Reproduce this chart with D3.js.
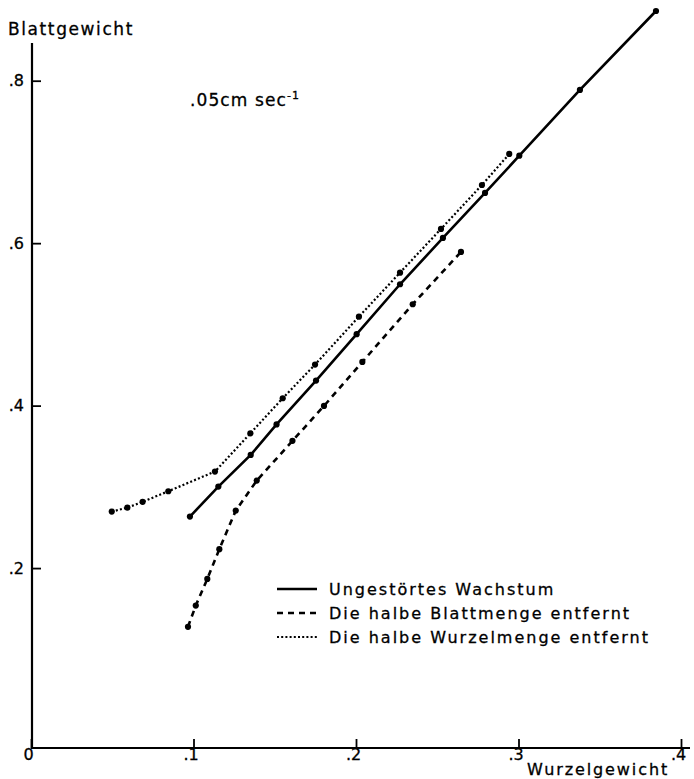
<!DOCTYPE html>
<html><head><meta charset="utf-8">
<script src="https://cdn.jsdelivr.net/npm/d3@7/dist/d3.min.js"></script>
<style>
body{margin:0;background:#fff}
svg{display:block}
text{font-family:"DejaVu Sans",sans-serif;fill:#000;stroke:#000;stroke-width:0.3px}
</style>
</head><body>
<svg id="c" width="694" height="779"></svg>
<script>
// Data (x = Wurzelgewicht, y = Blattgewicht)
const undisturbedX = [0.0978,0.1153,0.1352,0.1511,0.1754,0.2004,0.2271,0.2535,0.2794,0.3005,0.3378,0.3846];
const undisturbedY = [0.2634,0.3003,0.3393,0.3769,0.4308,0.4879,0.5494,0.6064,0.6618,0.7077,0.7886,0.8858];
const halfLeafX = [0.0966,0.1014,0.1085,0.1159,0.1260,0.1389,0.1609,0.1803,0.2039,0.2349,0.2646];
const halfLeafY = [0.1277,0.1538,0.1867,0.2233,0.2708,0.3077,0.3566,0.3996,0.4538,0.5248,0.5892];
const halfRootX = [0.0497,0.0593,0.0687,0.0845,0.1132,0.1350,0.1549,0.1748,0.2018,0.2271,0.2523,0.2775,0.2943];
const halfRootY = [0.2695,0.2745,0.2815,0.2946,0.3188,0.3659,0.4091,0.4505,0.5095,0.5637,0.6175,0.6716,0.7098];
const xTicks = [0,0.1,0.2,0.3,0.4];
const yTicks = [0.2,0.4,0.6,0.8];
const seriesNames = ["Ungestörtes Wachstum","Die halbe Blattmenge entfernt","Die halbe Wurzelmenge entfernt"];

const svg = d3.select("#c");
const x = d3.scaleLinear().domain([0,0.4]).range([31,681]);
const y = d3.scaleLinear().domain([-0.0215,0.8]).range([748,80.7]);
const fmt = v => v===0 ? "0" : d3.format(".1f")(v).replace(/^0/,"");

// axes lines
svg.append("line").attr("x1",32).attr("x2",32).attr("y1",43).attr("y2",748.5)
  .attr("stroke","#000").attr("stroke-width",2.2);
svg.append("line").attr("x1",31).attr("x2",690).attr("y1",748).attr("y2",748)
  .attr("stroke","#000").attr("stroke-width",2.2);

const gx = svg.append("g").attr("transform","translate(0,748)")
  .call(d3.axisBottom(x).tickValues(xTicks).tickSize(-9).tickPadding(1).tickFormat(fmt));
const gy = svg.append("g").attr("transform","translate(32,0)")
  .call(d3.axisLeft(y).tickValues(yTicks).tickSize(-9).tickPadding(8).tickFormat(fmt));
[gx,gy].forEach(g=>{
  g.select(".domain").remove();
  g.selectAll(".tick line").attr("stroke","#000").attr("stroke-width",1.8);
  g.selectAll(".tick text").attr("font-size",16).attr("font-family","DejaVu Sans")
    .attr("fill","#000").attr("stroke","#000").attr("stroke-width",0.4);
});
gx.selectAll(".tick text").attr("dx",-3);

// axis titles
svg.append("text").attr("x",8).attr("y",35).attr("font-size",17).attr("letter-spacing",1.6).text("Blattgewicht");
svg.append("text").attr("x",527).attr("y",775)
  .attr("font-size",16).attr("letter-spacing",1.9).text("Wurzelgewicht");

// annotation
const ann = svg.append("text").attr("x",190).attr("y",106).attr("font-size",17).attr("letter-spacing",1.1);
ann.append("tspan").text(".05cm sec");
ann.append("tspan").attr("font-size",11).attr("dy",-7).text("-1");

// series
const line = d3.line().x(d=>x(d[0])).y(d=>y(d[1]));
const series = [
  {xs:undisturbedX, ys:undisturbedY, dash:null, w:2.6},
  {xs:halfLeafX, ys:halfLeafY, dash:"6,5", w:2.6},
  {xs:halfRootX, ys:halfRootY, dash:"2,2.2", w:2.2}
];
series.forEach(s=>{
  const pts = s.xs.map((v,i)=>[v,s.ys[i]]);
  svg.append("path").datum(pts).attr("d",line).attr("fill","none")
    .attr("stroke","#000").attr("stroke-width",s.w)
    .attr("stroke-dasharray",s.dash);
  svg.append("g").selectAll("circle").data(pts).join("circle")
    .attr("cx",d=>x(d[0])).attr("cy",d=>y(d[1])).attr("r",3.1).attr("fill","#000");
});

// legend
const lg = svg.append("g");
const rowY = [589,613,637];
series.forEach((s,i)=>{
  lg.append("line").attr("x1",277).attr("x2",317).attr("y1",rowY[i]).attr("y2",rowY[i])
    .attr("stroke","#000").attr("stroke-width",s.w).attr("stroke-dasharray",s.dash);
  lg.append("text").attr("x",329).attr("y",rowY[i]+6).attr("font-size",16)
    .attr("letter-spacing",2).text(seriesNames[i]);
});
</script>
</body></html>
